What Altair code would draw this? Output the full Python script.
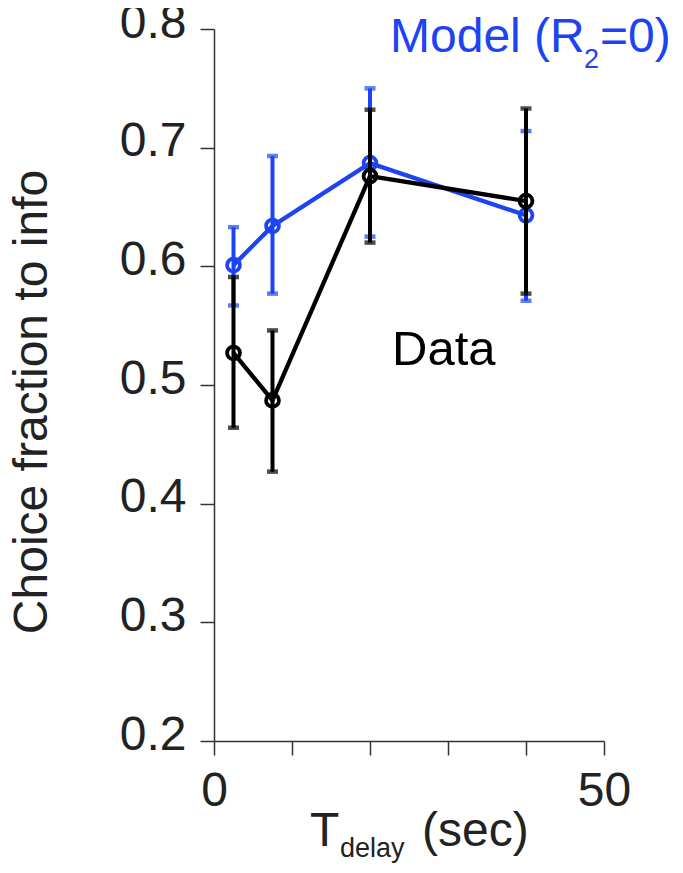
import altair as alt
import pandas as pd

# ---- data ----
delay = [2.5, 7.5, 20, 40]
model_mean = [0.601, 0.634, 0.687, 0.643]
model_lo = [0.567, 0.577, 0.625, 0.571]
model_hi = [0.633, 0.693, 0.750, 0.714]
data_mean = [0.527, 0.487, 0.676, 0.655]
data_lo = [0.464, 0.427, 0.620, 0.577]
data_hi = [0.591, 0.546, 0.732, 0.733]

x_ticks = [0, 10, 20, 30, 40, 50]
y_ticks = [0.2, 0.3, 0.4, 0.5, 0.6, 0.7, 0.8]

BLUE = "#1C44F2"
BLACK = "#000000"
FONT = "Liberation Sans"
W, H = 390, 712

model_df = pd.DataFrame({"x": delay, "m": model_mean, "lo": model_lo, "hi": model_hi})
data_df = pd.DataFrame({"x": delay, "m": data_mean, "lo": data_lo, "hi": data_hi})

xscale = alt.Scale(domain=[0, 50], nice=False, zero=False)
yscale = alt.Scale(domain=[0.2, 0.8], nice=False, zero=False)

axis_common = dict(
    grid=False, domainColor="#333333", domainWidth=1.5, tickColor="#333333",
    tickWidth=1.5, tickSize=14, labelFont=FONT, labelFontSize=48,
    labelColor="#222222", title=None,
)

xenc = alt.X("x:Q", scale=xscale, axis=alt.Axis(
    values=x_ticks, labelExpr="datum.value == 0 || datum.value == 50 ? datum.label : ''",
    labelPadding=12, labelBaseline="top", labelFlush=False, **axis_common))
yenc = alt.Y("m:Q", scale=yscale, axis=alt.Axis(
    values=y_ticks, format=".1f", labelPadding=14, labelOffset=-6, labelFlush=False,
    **axis_common))


def series(df, color):
    base = alt.Chart(df)
    rule = base.mark_rule(color=color, strokeWidth=4).encode(
        x=alt.X("x:Q", scale=xscale), y=alt.Y("lo:Q", scale=yscale), y2="hi:Q")
    cap_lo = base.mark_tick(color=color, orient="horizontal", size=11, thickness=4.5).encode(
        x=alt.X("x:Q", scale=xscale), y=alt.Y("lo:Q", scale=yscale))
    cap_hi = base.mark_tick(color=color, orient="horizontal", size=11, thickness=4.5).encode(
        x=alt.X("x:Q", scale=xscale), y=alt.Y("hi:Q", scale=yscale))
    line = base.mark_line(color=color, strokeWidth=4.3).encode(x=xenc, y=yenc)
    pts = base.mark_point(color=color, shape="circle", size=165, strokeWidth=3.8,
                          filled=False, opacity=1).encode(x=alt.X("x:Q", scale=xscale),
                                                           y=alt.Y("m:Q", scale=yscale))
    return [rule, cap_lo, cap_hi, line, pts]


def label(text, x, y, size, color, angle=0, align="left"):
    return alt.Chart(pd.DataFrame({"t": [text]})).mark_text(
        font=FONT, fontSize=size, color=color, align=align, baseline="alphabetic",
        angle=angle).encode(text="t:N", x=alt.value(x), y=alt.value(y))


annotations = [
    label("Model (R", 176, 22.7, 48, BLUE),
    label("2", 370, 39, 27, BLUE),
    label("=0)", 386, 22.7, 48, BLUE),
    label("Data", 178, 336, 49, BLACK),
    label("T", 96, 817, 48, "#222222"),
    label("delay", 126, 828, 27, "#222222"),
    label("(sec)", 208, 817, 48, "#222222"),
    label("Choice fraction to info", -167, 373, 48, "#222222", angle=270, align="center"),
]

chart = alt.layer(
    *series(model_df, BLUE), *series(data_df, BLACK), *annotations
).properties(
    width=W, height=H,
    autosize=alt.AutoSizeParams(type="none"),
    padding={"left": 206, "top": 21, "right": 71, "bottom": 122},
).configure(background="white", view=alt.ViewConfig(stroke=None))

chart.save("out.html", embed_options={"renderer": "svg", "actions": False})
